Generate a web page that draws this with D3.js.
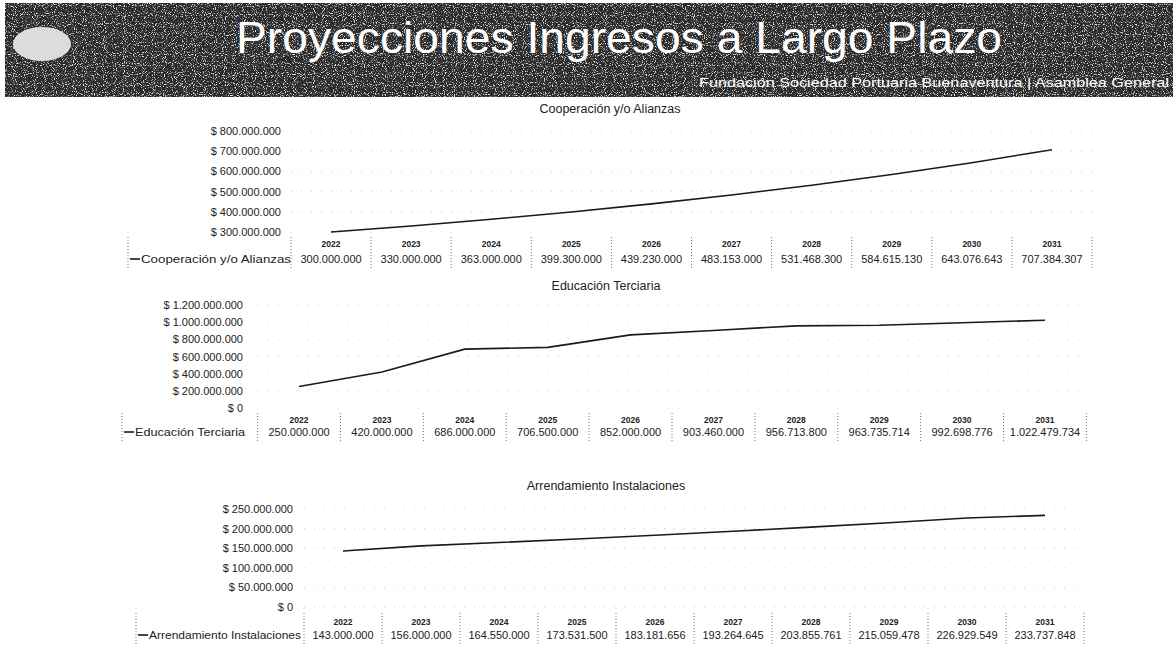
<!DOCTYPE html>
<html><head><meta charset="utf-8">
<script src="https://cdn.jsdelivr.net/npm/d3@7"></script>
<style>
html,body{margin:0;padding:0;background:#fff;}
svg{display:block;font-family:"Liberation Sans",Arial,sans-serif;}
</style></head>
<body>
<svg id="c" width="1173" height="665"></svg>
<script>
// ---- data ----
const years = ["2022","2023","2024","2025","2026","2027","2028","2029","2030","2031"];
const coopName = "Cooperación y/o Alianzas";
const coopValues = [300000000,330000000,363000000,399300000,439230000,483153000,531468300,584615130,643076643,707384307];
const coopTicks = [300000000,400000000,500000000,600000000,700000000,800000000];
const eduName = "Educación Terciaria";
const eduValues = [250000000,420000000,686000000,706500000,852000000,903460000,956713800,963735714,992698776,1022479734];
const eduTicks = [0,200000000,400000000,600000000,800000000,1000000000,1200000000];
const arrName = "Arrendamiento Instalaciones";
const arrValues = [143000000,156000000,164550000,173531500,183181656,193264645,203855761,215059478,226929549,233737848];
const arrTicks = [0,50000000,100000000,150000000,200000000,250000000];
const mainTitle = "Proyecciones Ingresos a Largo Plazo";
const subTitle = "Fundación Sociedad Portuaria Buenaventura | Asamblea General";

const loc = d3.formatLocale({decimal:",",thousands:".",grouping:[3],currency:["$ ",""]});
const fmtMoney = loc.format("$,.0f");
const fmtNum = loc.format(",.0f");

const svg = d3.select("#c");

// ---- header ----
const defs = svg.append("defs");
const f = defs.append("filter").attr("id","grain").attr("x",0).attr("y",0).attr("width","100%").attr("height","100%");
f.append("feTurbulence").attr("type","fractalNoise").attr("baseFrequency",0.9).attr("numOctaves",1).attr("seed",3).attr("result","n");
f.append("feColorMatrix").attr("in","n").attr("type","matrix")
 .attr("values","0 0 0 0 1  0 0 0 0 1  0 0 0 0 1  0 0 0 6 -3.2").attr("result","w");
f.append("feComposite").attr("in","w").attr("in2","SourceGraphic").attr("operator","in");

svg.append("rect").attr("x",5).attr("y",3).attr("width",1168).attr("height",94).attr("fill","#2a2a2a");
svg.append("rect").attr("x",5).attr("y",3).attr("width",1168).attr("height",94).attr("fill","#2a2a2a").attr("filter","url(#grain)").attr("opacity",0.85);
svg.append("ellipse").attr("cx",42).attr("cy",44).attr("rx",29).attr("ry",17).attr("fill","#dcdcdc");
svg.append("text").attr("x",236).attr("y",53).attr("fill","#fff").attr("font-size",44)
  .attr("textLength",766).attr("lengthAdjust","spacingAndGlyphs").text(mainTitle);
svg.append("text").attr("x",699).attr("y",87).attr("fill","#fff").attr("font-size",13)
  .attr("textLength",470).attr("lengthAdjust","spacingAndGlyphs").text(subTitle);

// ---- charts ----
function drawChart(name, values, ticks, L){
  const g = svg.append("g");
  const x = d3.scaleBand().domain(years).range([L.left, L.right]);
  const y = d3.scaleLinear().domain([ticks[0], ticks[ticks.length-1]]).range([L.bottom, L.top]);
  const cx = d => x(d) + x.bandwidth()/2;

  g.append("text").attr("x",L.titleX).attr("y",L.titleY).attr("text-anchor","middle")
    .attr("font-size",12.5).attr("fill","#222").text(name);

  // faint gridlines
  g.selectAll(".grid").data(ticks).join("line")
    .attr("x1",L.left).attr("x2",L.right).attr("y1",d=>y(d)).attr("y2",d=>y(d))
    .attr("stroke","#c8c8c8").attr("stroke-width",1).attr("stroke-dasharray","1,9");

  // y axis labels via d3 axis
  const ax = g.append("g").attr("transform",`translate(${L.labelX+3},0)`)
    .call(d3.axisLeft(y).tickValues(ticks).tickFormat(fmtMoney).tickSize(0).tickPadding(3));
  ax.select(".domain").remove();
  ax.selectAll("text").attr("font-size",11).attr("fill","#222").attr("font-family","Liberation Sans, Arial, sans-serif");

  // line
  const line = d3.line().x((d,i)=>cx(years[i])).y(d=>y(d));
  g.append("path").datum(values).attr("d",line).attr("fill","none")
    .attr("stroke","#1a1a1a").attr("stroke-width",1.6);

  // data table
  const bTop = L.tableTop, bBot = L.tableBottom;
  const bounds = [L.legendX, ...years.map(d=>x(d)), L.right];
  g.selectAll(".vb").data(bounds).join("line")
    .attr("x1",d=>d).attr("x2",d=>d).attr("y1",bTop).attr("y2",bBot)
    .attr("stroke","#777").attr("stroke-width",1).attr("stroke-dasharray","1,2");
  g.selectAll(".yr").data(years).join("text")
    .attr("x",d=>cx(d)).attr("y",L.yearY).attr("text-anchor","middle")
    .attr("font-size",8.5).attr("font-weight","bold").attr("fill","#222").text(d=>d);
  g.selectAll(".val").data(values).join("text")
    .attr("x",(d,i)=>cx(years[i])).attr("y",L.valueY).attr("text-anchor","middle")
    .attr("font-size",11).attr("fill","#222").text(d=>fmtNum(d));
  // legend key
  g.append("line").attr("x1",L.legendX+2).attr("x2",L.legendX+12).attr("y1",L.valueY-4).attr("y2",L.valueY-4)
    .attr("stroke","#1a1a1a").attr("stroke-width",1.6);
  g.append("text").attr("x",L.legendX+13).attr("y",L.valueY).attr("font-size",11).attr("fill","#222")
    .attr("textLength",L.legendW).attr("lengthAdjust","spacingAndGlyphs").text(name);
}

drawChart(coopName, coopValues, coopTicks,
  {titleX:610,titleY:113,left:291,right:1092,top:131,bottom:232,labelX:281,
   yearY:247,valueY:263,legendX:128,legendW:150,tableTop:237,tableBottom:268});
drawChart(eduName, eduValues, eduTicks,
  {titleX:606,titleY:290,left:257.6,right:1086.4,top:305,bottom:408,labelX:243,
   yearY:423,valueY:436,legendX:122,legendW:110,tableTop:413,tableBottom:441});
drawChart(arrName, arrValues, arrTicks,
  {titleX:606,titleY:490,left:304,right:1084,top:509,bottom:607,labelX:293,
   yearY:625,valueY:639,legendX:136,legendW:152,tableTop:613,tableBottom:645});
</script>
</body></html>
